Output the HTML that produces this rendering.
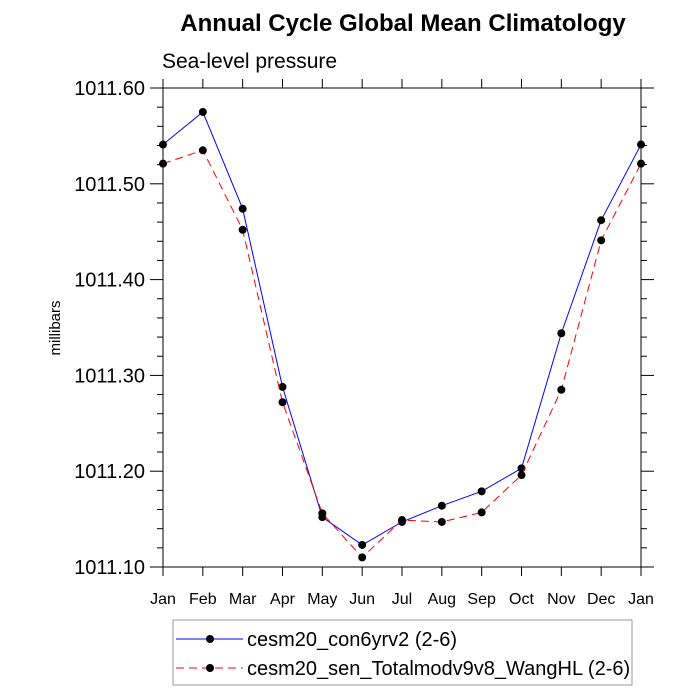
<!DOCTYPE html>
<html><head><meta charset="utf-8"><style>
body{margin:0;background:#fff;}
svg{display:block;font-family:"Liberation Sans",Arial,sans-serif;}
</style></head><body>
<svg id="c" width="700" height="700">
<text x="403" y="31" text-anchor="middle" font-size="24" font-weight="bold">Annual Cycle Global Mean Climatology</text>
<text x="162" y="68" font-size="21">Sea-level pressure</text>
<text transform="translate(60,328) rotate(-90)" text-anchor="middle" font-size="15">millibars</text>
<g id="grid"></g>
<rect x="163" y="88" width="478" height="479" fill="none" stroke="#000" stroke-width="1"/>
<g id="series"></g>
<g>
<rect x="173" y="620" width="459" height="65" fill="#fff" stroke="#999" stroke-width="1"/>
<g>
<line x1="176" y1="639" x2="243" y2="639" stroke="#00f" stroke-width="1"/>
<circle cx="210" cy="639" r="4" fill="#000"/>
<text x="247" y="646" font-size="20">cesm20_con6yrv2 (2-6)</text>
</g>
<g>
<line x1="176" y1="668" x2="243" y2="668" stroke="#f00" stroke-width="1" stroke-dasharray="8,5"/>
<circle cx="210" cy="668" r="4" fill="#000"/>
<text x="247" y="675" font-size="20">cesm20_sen_Totalmodv9v8_WangHL (2-6)</text>
</g>
</g>
</svg>
<script>
const months=["Jan","Feb","Mar","Apr","May","Jun","Jul","Aug","Sep","Oct","Nov","Dec","Jan"];
const conValues=[1011.541,1011.575,1011.474,1011.288,1011.152,1011.123,1011.147,1011.164,1011.179,1011.203,1011.344,1011.462,1011.541];
const senValues=[1011.521,1011.535,1011.452,1011.272,1011.156,1011.110,1011.149,1011.147,1011.157,1011.196,1011.285,1011.441,1011.521];
const yTicks=["1011.10","1011.20","1011.30","1011.40","1011.50","1011.60"];
const X0=163,X1=641,Y0=567,Y1=88,YMIN=1011.10,YMAX=1011.60;
const xs=i=>X0+(X1-X0)*i/(months.length-1);
const ys=v=>Y0-(v-YMIN)/(YMAX-YMIN)*(Y0-Y1);
const NS="http://www.w3.org/2000/svg";
function mk(t,a,p){const e=document.createElementNS(NS,t);for(const k in a)e.setAttribute(k,a[k]);p.appendChild(e);return e;}
const g=document.getElementById('grid');
months.forEach((m,i)=>{const x=xs(i);
mk('line',{x1:x,y1:Y0,x2:x,y2:Y0+9,stroke:'#000'},g);
mk('line',{x1:x,y1:Y1,x2:x,y2:Y1-9,stroke:'#000'},g);
const t=mk('text',{x:x,y:Y0+37,'text-anchor':'middle','font-size':'16'},g);t.textContent=m;


});
for(let k=0;k<=25;k++){const v=YMIN+k*0.02,y=ys(v),maj=k%5===0,L=maj?13:6;
mk('line',{x1:X0,y1:y,x2:X0-L,y2:y,stroke:'#000'},g);
mk('line',{x1:X1,y1:y,x2:X1+L,y2:y,stroke:'#000'},g);}
yTicks.forEach(s=>{const y=ys(parseFloat(s));
const t=mk('text',{x:X0-18,y:y+7,'text-anchor':'end','font-size':'20'},g);t.textContent=s;


});
const sg=document.getElementById('series');
[[conValues,'#00f',null,'series-con6yrv2'],[senValues,'#f00','8,5','series-sen-wanghl']].forEach(([vals,c,d,n])=>{
const grp=mk('g',{},sg);


const pl=mk('polyline',{points:vals.map((v,i)=>xs(i)+','+ys(v)).join(' '),fill:'none',stroke:c,'stroke-width':1},grp);
if(d)pl.setAttribute('stroke-dasharray',d);
vals.forEach((v,i)=>{const p=mk('circle',{cx:xs(i),cy:ys(v),r:4,fill:'#000'},grp);


});
});
</script>
</body></html>
